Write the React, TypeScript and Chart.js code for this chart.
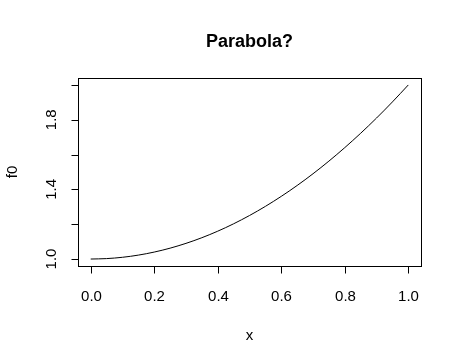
import React, { useEffect, useRef } from "react";
import { Chart, registerables } from "chart.js";

Chart.register(...registerables);

const xValues = [0, 0.05, 0.1, 0.15, 0.2, 0.25, 0.3, 0.35, 0.4, 0.45, 0.5, 0.55, 0.6, 0.65, 0.7, 0.75, 0.8, 0.85, 0.9, 0.95, 1.0];
const f0Values = [1.0, 1.0025, 1.01, 1.0225, 1.04, 1.0625, 1.09, 1.1225, 1.16, 1.2025, 1.25, 1.3025, 1.36, 1.4225, 1.49, 1.5625, 1.64, 1.7225, 1.81, 1.9025, 2.0];
const xTicks = [0, 0.2, 0.4, 0.6, 0.8, 1.0];
const yTicks = [1.0, 1.2, 1.4, 1.6, 1.8, 2.0];
const yLabelTicks = [1.0, 1.4, 1.8];
const titleText = "Parabola?";
const xTitle = "x";
const yTitle = "f0";

const FONT = "'Liberation Sans', Arial, Helvetica, sans-serif";

const rAxesPlugin = {
  id: "rAxes",
  afterDraw(chart: any) {
    const ctx = chart.ctx as CanvasRenderingContext2D;
    const xs = chart.scales.x;
    const ys = chart.scales.y;
    const a = chart.chartArea;
    ctx.save();
    ctx.strokeStyle = "#000";
    ctx.fillStyle = "#000";
    ctx.lineWidth = 1;
    // box
    ctx.strokeRect(Math.round(a.left) + 0.5, Math.round(a.top) + 0.5, Math.round(a.right - a.left), Math.round(a.bottom - a.top));
    const bottom = Math.round(a.bottom) + 0.5;
    const left = Math.round(a.left) + 0.5;
    ctx.font = `15px ${FONT}`;
    ctx.textAlign = "center";
    ctx.textBaseline = "alphabetic";
    xTicks.forEach((t) => {
      const px = Math.round(xs.getPixelForValue(t)) + 0.5;
      ctx.beginPath();
      ctx.moveTo(px, bottom);
      ctx.lineTo(px, bottom + 7);
      ctx.stroke();
      ctx.fillText(t.toFixed(1), px, 301);
    });
    yTicks.forEach((t) => {
      const py = Math.round(ys.getPixelForValue(t)) + 0.5;
      ctx.beginPath();
      ctx.moveTo(left, py);
      ctx.lineTo(left - 7, py);
      ctx.stroke();
    });
    yLabelTicks.forEach((t) => {
      const py = ys.getPixelForValue(t);
      ctx.save();
      ctx.translate(56, py);
      ctx.rotate(-Math.PI / 2);
      ctx.fillText(t.toFixed(1), 0, 0);
      ctx.restore();
    });
    // axis titles
    ctx.fillText(xTitle, (a.left + a.right) / 2, 340);
    ctx.save();
    ctx.translate(17, (a.top + a.bottom) / 2);
    ctx.rotate(-Math.PI / 2);
    ctx.fillText(yTitle, 0, 0);
    ctx.restore();
    // main title
    ctx.font = `bold 18px ${FONT}`;
    ctx.fillText(titleText, (a.left + a.right) / 2, 47);
    ctx.restore();
  },
};

export default function App() {
  const ref = useRef<HTMLCanvasElement | null>(null);
  useEffect(() => {
    if (!ref.current) return;
    const chart = new Chart(ref.current, {
      type: "line",
      data: {
        datasets: [
          {
            data: xValues.map((x, i) => ({ x, y: f0Values[i] })),
            borderColor: "#000",
            borderWidth: 1,
            pointRadius: 0,
            fill: false,
            cubicInterpolationMode: "monotone",
          },
        ],
      },
      options: {
        animation: false,
        responsive: false,
        maintainAspectRatio: false,
        devicePixelRatio: 1,
        layout: { padding: { left: 78, right: 41, top: 78, bottom: 98 } },
        plugins: { legend: { display: false }, tooltip: { enabled: false }, title: { display: false } },
        scales: {
          x: { type: "linear", min: -0.04, max: 1.04, display: false },
          y: { type: "linear", min: 0.96, max: 2.04, display: false },
        },
      },
      plugins: [rAxesPlugin],
    });
    return () => chart.destroy();
  }, []);
  return (
    <div style={{ position: "absolute", left: 0, top: 0, width: 462, height: 364, background: "#fff" }}>
      <canvas ref={ref} width={462} height={364} style={{ width: 462, height: 364 }} />
    </div>
  );
}
